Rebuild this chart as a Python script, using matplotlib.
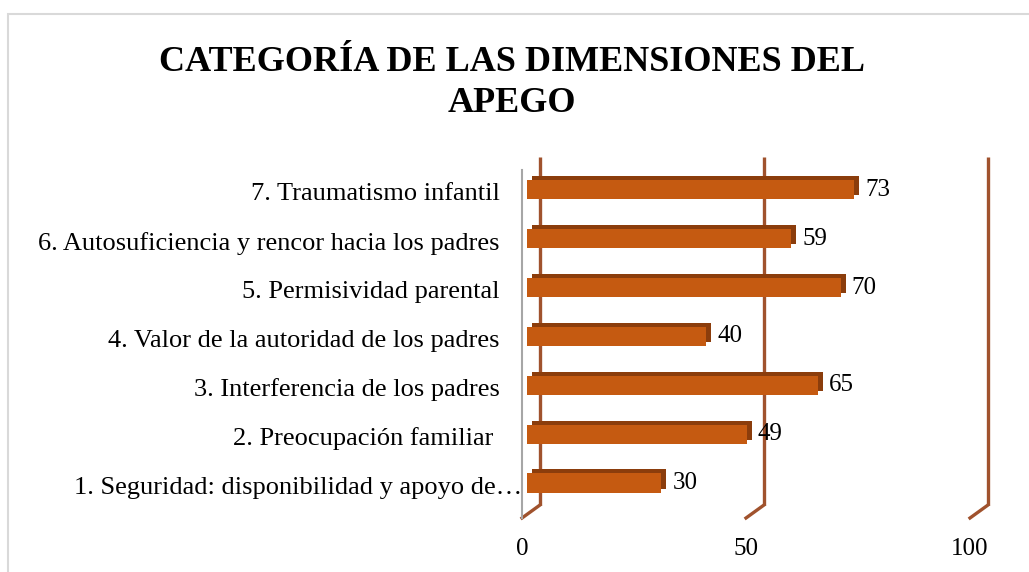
import matplotlib
matplotlib.use("Agg")
import matplotlib.pyplot as plt
from matplotlib.transforms import ScaledTranslation, blended_transform_factory
from matplotlib.patches import Rectangle

categories = [
    "1. Seguridad: disponibilidad y apoyo de…",
    "2. Preocupación familiar ",
    "3. Interferencia de los padres",
    "4. Valor de la autoridad de los padres",
    "5. Permisividad parental",
    "6. Autosuficiencia y rencor hacia los padres",
    "7. Traumatismo infantil",
]
values = [30, 49, 65, 40, 70, 59, 73]
xticks = [0, 50, 100]
title = "CATEGORÍA DE LAS DIMENSIONES DEL\nAPEGO"

W, H = 1029, 572
DPI = 100
plt.rcParams['font.family'] = ['Liberation Serif', 'DejaVu Serif']

fig = plt.figure(figsize=(W / DPI, H / DPI), dpi=DPI)
fig.patch.set_facecolor('white')

# axes placement in pixels
ax_left, ax_right = 522, 970
ax_bottom, ax_top = 518, 170
ax = fig.add_axes([ax_left / W, 1 - ax_bottom / H,
                   (ax_right - ax_left) / W, (ax_bottom - ax_top) / H])
ax.set_xlim(0, 100)
ax.set_ylim(-0.676, 6.45)
ax.set_facecolor('none')
for s in ['top', 'right', 'bottom']:
    ax.spines[s].set_visible(False)
ax.spines['left'].set_color('#A6A6A6')
ax.spines['left'].set_linewidth(1.5)

px_per_x = (ax_right - ax_left) / 100.0
px_per_y = (ax_bottom - ax_top) / (6.45 + 0.676)

def pt(px):
    return px * 72.0 / DPI

# back wall gridlines (3D effect)
back_dx, back_dy = 18, 13
grid_color = '#A0522D'
back = ax.transData + ScaledTranslation(pt(back_dx) / 72, pt(back_dy) / 72, fig.dpi_scale_trans)
ylo, yhi = ax.get_ylim()
for xv in xticks:
    ax.plot([xv, xv], [ylo, yhi], color=grid_color, lw=2.4,
            transform=back, solid_capstyle='butt', zorder=1, clip_on=False)
    ax.plot([xv, xv + back_dx / px_per_x], [ylo, ylo + back_dy / px_per_y],
            color=grid_color, lw=2.4, zorder=1, clip_on=False)

# bars with depth
ypos = list(range(len(categories)))
bar_h = 0.39
bar_shift = ScaledTranslation(pt(5) / 72, pt(2) / 72, fig.dpi_scale_trans)
side_shift = ScaledTranslation(pt(10) / 72, pt(6) / 72, fig.dpi_scale_trans)
ax.barh(ypos, values, height=bar_h, color='#8B3D0C', transform=ax.transData + side_shift,
        zorder=2, clip_on=False)
ax.barh(ypos, values, height=bar_h, color='#C55A11', transform=ax.transData + bar_shift,
        zorder=3, clip_on=False)

label_shift = ScaledTranslation(pt(16) / 72, pt(2) / 72, fig.dpi_scale_trans)
for y, v in zip(ypos, values):
    ax.text(v, y, str(v), va='center', ha='left', fontsize=18, color='black',
            transform=ax.transData + label_shift, zorder=4)

# category labels: the first one overflows up to the axis line, as in the original
ax.set_yticks(ypos)
ax.set_yticklabels([""] + categories[1:], fontsize=19)
ax.tick_params(axis='y', length=0, pad=pt(22))
blend = blended_transform_factory(ax.transAxes, ax.transData)
ax.text(0, ypos[0], categories[0], ha='right', va='center_baseline', fontsize=19,
        transform=blend + ScaledTranslation(0, pt(-1) / 72, fig.dpi_scale_trans),
        zorder=5)

ax.set_xticks(xticks)
ax.set_xticklabels([str(t) for t in xticks], fontsize=18)
ax.tick_params(axis='x', length=0, pad=pt(20))

fig.text(512 / W, 1 - 83 / H, title, ha='center', va='center', fontsize=26,
         fontweight='bold', linespacing=1.3)

fig.add_artist(Rectangle((8 / W, -0.1), 1.2, (H - 14) / H + 0.1, transform=fig.transFigure,
                         fill=False, edgecolor='#D9D9D9', lw=1.5))

fig.savefig('out.png', dpi=DPI)
